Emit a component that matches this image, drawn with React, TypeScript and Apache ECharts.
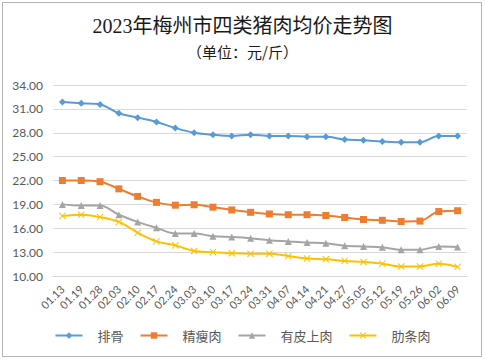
import React, { useEffect, useRef } from "react";
import * as echarts from "echarts";

const categories = ["01.13", "01.19", "01.28", "02.03", "02.10", "02.17", "02.24", "03.03", "03.10", "03.17", "03.24", "03.31", "04.07", "04.14", "04.21", "04.27", "05.05", "05.12", "05.19", "05.26", "06.02", "06.09"];
const paigu = [31.85, 31.7, 31.55, 30.45, 29.9, 29.35, 28.6, 28.0, 27.75, 27.6, 27.75, 27.6, 27.6, 27.5, 27.5, 27.15, 27.05, 26.9, 26.8, 26.8, 27.6, 27.6];
const jingshourou = [22.0, 22.0, 21.85, 20.95, 20.0, 19.25, 18.9, 18.95, 18.65, 18.3, 18.0, 17.8, 17.7, 17.7, 17.6, 17.35, 17.1, 17.0, 16.85, 16.9, 18.1, 18.2];
const youpishangrou = [19.0, 18.85, 18.85, 17.7, 16.8, 16.05, 15.35, 15.35, 15.0, 14.9, 14.75, 14.5, 14.35, 14.2, 14.1, 13.8, 13.7, 13.6, 13.3, 13.3, 13.7, 13.65];
const leitiaorou = [17.55, 17.7, 17.4, 16.8, 15.45, 14.35, 13.85, 13.15, 13.0, 12.85, 12.8, 12.8, 12.5, 12.2, 12.1, 11.9, 11.75, 11.55, 11.2, 11.2, 11.55, 11.15];
const seriesNames = ["排骨", "精瘦肉", "有皮上肉", "肋条肉"];
const titleText = "2023年梅州市四类猪肉均价走势图";
const subTitleText = "（单位：元/斤）";

const X_SYMBOL = "path://M0,1 L1,0 L5,4 L9,0 L10,1 L6,5 L10,9 L9,10 L5,6 L1,10 L0,9 L4,5 Z";

export default function App() {
  const ref = useRef<HTMLDivElement>(null);
  useEffect(() => {
    if (!ref.current) return;
    const chart = echarts.init(ref.current, undefined, { renderer: "svg" });
    const mk = (name: string, data: number[], color: string, symbol: string, size: number) => ({
      name,
      type: "line",
      data,
      smooth: 0.35,
      symbol,
      symbolSize: size,
      showSymbol: true,
      lineStyle: { color, width: 2 },
      itemStyle: { color },
    });
    chart.setOption({
      animation: false,
      backgroundColor: "#ffffff",
      title: [
        {
          text: titleText,
          left: "center",
          top: 16,
          padding: 0,
          textStyle: { fontFamily: "'Liberation Serif', 'Noto Sans CJK SC', serif", fontSize: 20, fontWeight: "normal", color: "#1a1a1a" },
        },
        {
          text: subTitleText,
          left: "center",
          top: 44,
          padding: 0,
          textStyle: { fontFamily: "'Noto Sans CJK SC', sans-serif", fontSize: 15, fontWeight: "normal", color: "#1a1a1a" },
        },
      ],
      grid: { left: 53, right: 18, top: 85, bottom: 85, containLabel: false },
      legend: {
        data: seriesNames,
        bottom: 14,
        left: "center",
        itemWidth: 27,
        itemHeight: 8,
        itemGap: 16,
        textStyle: { fontFamily: "'Noto Sans CJK SC', sans-serif", fontSize: 13, color: "#595959", padding: [0, 0, 0, 10] },
      },
      xAxis: {
        type: "category",
        data: categories,
        boundaryGap: true,
        axisLine: { show: true, lineStyle: { color: "#d9d9d9", width: 1 } },
        axisTick: { show: false },
        axisLabel: { rotate: 45, interval: 0, fontFamily: "Lato, sans-serif", fontSize: 11, color: "#595959", margin: 11 },
      },
      yAxis: {
        type: "value",
        min: 10,
        max: 34,
        interval: 3,
        axisLine: { show: false },
        axisTick: { show: false },
        splitLine: { lineStyle: { color: "#d9d9d9", width: 1 } },
        axisLabel: { formatter: (v: number) => v.toFixed(2), fontFamily: "Lato, sans-serif", fontSize: 12, color: "#595959", margin: 10 },
      },
      graphic: [
        {
          type: "rect",
          shape: { x: 2.5, y: 2.5, width: 479, height: 354 },
          style: { fill: "none", stroke: "#b4b4b4", lineWidth: 1 },
          silent: true,
        },
      ],
      series: [
        mk(seriesNames[0], paigu, "#5B9BD5", "diamond", 7),
        mk(seriesNames[1], jingshourou, "#ED7D31", "rect", 7),
        mk(seriesNames[2], youpishangrou, "#A5A5A5", "triangle", 7),
        mk(seriesNames[3], leitiaorou, "#FFC000", X_SYMBOL, 7),
      ],
    });
    return () => chart.dispose();
  }, []);
  return <div ref={ref} style={{ position: "absolute", left: 0, top: 0, width: 485, height: 361 }} />;
}
